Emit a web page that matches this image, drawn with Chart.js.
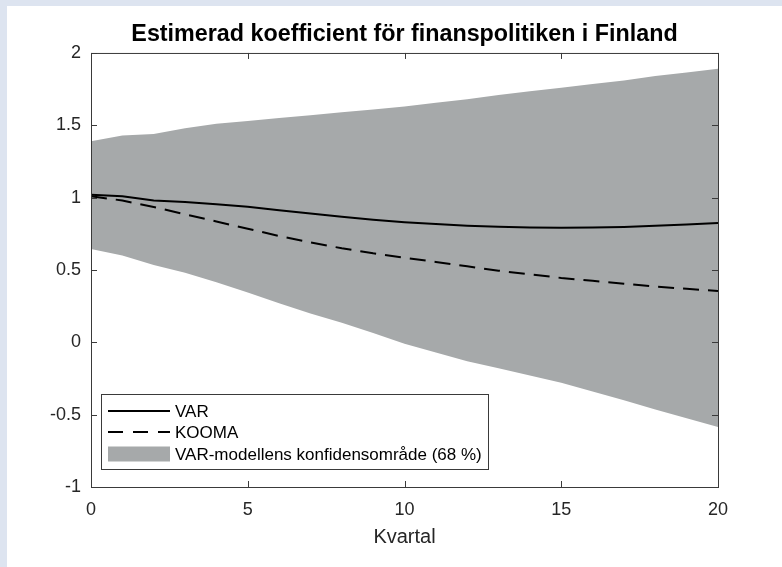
<!DOCTYPE html>
<html>
<head>
<meta charset="utf-8">
<script src="https://cdn.jsdelivr.net/npm/chart.js@4.4.1/dist/chart.umd.min.js"></script>
<style>
  html, body { margin: 0; padding: 0; background: #dde4f0; }
  #panel { position: absolute; left: 7px; top: 6px; width: 775px; height: 561px; background: #ffffff; }
  #wrap { position: absolute; left: 0; top: 0; width: 782px; height: 567px; }
</style>
</head>
<body>
<div id="panel"></div>
<div id="wrap"><canvas id="c" width="782" height="567"></canvas></div>
<script>
// Quarters after the shock and the estimated coefficients
const quarters      = [0, 1, 2, 3, 4, 5, 6, 7, 8, 9, 10, 11, 12, 13, 14, 15, 16, 17, 18, 19, 20];
const varEstimate   = [1.02, 1.01, 0.98, 0.97, 0.955, 0.937, 0.913, 0.89, 0.868, 0.847, 0.83, 0.817, 0.806, 0.799, 0.794, 0.792, 0.793, 0.797, 0.805, 0.815, 0.825];
const koomaEstimate = [1.01, 0.98, 0.935, 0.885, 0.835, 0.785, 0.735, 0.69, 0.65, 0.615, 0.585, 0.555, 0.525, 0.495, 0.47, 0.445, 0.425, 0.405, 0.385, 0.37, 0.355];
const bandUpper     = [1.39, 1.43, 1.44, 1.48, 1.51, 1.53, 1.55, 1.57, 1.59, 1.61, 1.63, 1.655, 1.68, 1.71, 1.735, 1.76, 1.785, 1.81, 1.84, 1.865, 1.89];
const bandLower     = [0.645, 0.60, 0.535, 0.48, 0.415, 0.345, 0.27, 0.20, 0.135, 0.065, -0.01, -0.07, -0.13, -0.18, -0.23, -0.28, -0.34, -0.40, -0.465, -0.525, -0.585];

// Axis ticks and texts
const xTicks      = [0, 5, 10, 15, 20];
const xTickLabels = ['0', '5', '10', '15', '20'];
const yTicks      = [-1, -0.5, 0, 0.5, 1, 1.5, 2];
const yTickLabels = ['-1', '-0.5', '0', '0.5', '1', '1.5', '2'];
const titleText   = 'Estimerad koefficient för finanspolitiken i Finland';
const xTitleText  = 'Kvartal';
const legendLabels = ['VAR', 'KOOMA', 'VAR-modellens konfidensområde (68 %)'];

const FONT = '"Liberation Sans", Arial, Helvetica, sans-serif';
const AXIS_COLOR = '#3a3a3a';
const TEXT_COLOR = '#262626';
const BAND_COLOR = '#a6a9aa';
const DASH = [16, 9];

const toPoints = (ys) => quarters.map((q, i) => ({ x: q, y: ys[i] }));

// Box around the axes with inward tick marks on all four sides
const framePlugin = {
  id: 'frame',
  afterDatasetsDraw(chart) {
    const { ctx, chartArea: a, scales } = chart;
    const L = 6;
    ctx.save();
    ctx.strokeStyle = AXIS_COLOR;
    ctx.lineWidth = 1;
    ctx.beginPath();
    xTicks.forEach(v => {
      const px = Math.round(scales.x.getPixelForValue(v)) + 0.5;
      ctx.moveTo(px, a.bottom); ctx.lineTo(px, a.bottom - L);
      ctx.moveTo(px, a.top); ctx.lineTo(px, a.top + L);
    });
    yTicks.forEach(v => {
      const py = Math.round(scales.y.getPixelForValue(v)) + 0.5;
      ctx.moveTo(a.left, py); ctx.lineTo(a.left + L, py);
      ctx.moveTo(a.right, py); ctx.lineTo(a.right - L, py);
    });
    ctx.stroke();
    ctx.strokeRect(a.left + 0.5, a.top + 0.5, a.right - a.left, a.bottom - a.top);
    ctx.restore();
  }
};

// Legend box in the lower left corner of the axes
const legendBoxPlugin = {
  id: 'legendBox',
  afterDraw(chart) {
    const { ctx, chartArea: a } = chart;
    const x0 = a.left + 10, y0 = a.bottom - 93, w = 387, h = 75;
    const sx0 = x0 + 7, sx1 = x0 + 69, tx = x0 + 74;
    const rows = [y0 + 17, y0 + 38, y0 + 60];
    ctx.save();
    ctx.fillStyle = '#ffffff';
    ctx.fillRect(x0, y0, w, h);
    ctx.strokeStyle = AXIS_COLOR;
    ctx.lineWidth = 1;
    ctx.strokeRect(x0 + 0.5, y0 + 0.5, w, h);

    ctx.strokeStyle = '#000000';
    ctx.lineWidth = 2;
    ctx.beginPath(); ctx.moveTo(sx0, rows[0]); ctx.lineTo(sx1, rows[0]); ctx.stroke();
    ctx.setLineDash([15, 10]);
    ctx.beginPath(); ctx.moveTo(sx0, rows[1]); ctx.lineTo(sx1, rows[1]); ctx.stroke();
    ctx.setLineDash([]);
    ctx.fillStyle = BAND_COLOR;
    ctx.fillRect(sx0, rows[2] - 7.5, sx1 - sx0, 15);

    ctx.fillStyle = '#000000';
    ctx.font = '17px ' + FONT;
    ctx.textBaseline = 'middle';
    ctx.textAlign = 'left';
    legendLabels.forEach((t, i) => ctx.fillText(t, tx, rows[i] + 1));
    ctx.restore();
  }
};

new Chart(document.getElementById('c'), {
  type: 'line',
  data: {
    datasets: [
      { label: legendLabels[0], data: toPoints(varEstimate), borderColor: '#000000', borderWidth: 2,
        pointRadius: 0, fill: false, tension: 0 },
      { label: legendLabels[1], data: toPoints(koomaEstimate), borderColor: '#000000', borderWidth: 2,
        borderDash: DASH, pointRadius: 0, fill: false, tension: 0 },
      { label: 'upper', data: toPoints(bandUpper), borderColor: 'rgba(0,0,0,0)', borderWidth: 1,
        backgroundColor: BAND_COLOR, pointRadius: 0, fill: '+1', tension: 0 },
      { label: 'lower', data: toPoints(bandLower), borderColor: 'rgba(0,0,0,0)', borderWidth: 1,
        backgroundColor: BAND_COLOR, pointRadius: 0, fill: false, tension: 0 }
    ]
  },
  options: {
    responsive: false,
    animation: false,
    devicePixelRatio: 1,
    events: [],
    layout: { padding: { top: 6, right: 64, bottom: 18, left: 0 } },
    plugins: {
      legend: { display: false },
      tooltip: { enabled: false },
      filler: { drawTime: 'beforeDatasetsDraw', propagate: false },
      title: {
        display: true,
        fullSize: false,
        text: titleText,
        color: '#000000',
        font: { family: FONT, size: 23.3, weight: 'bold', lineHeight: 1.2 },
        padding: { top: 15, bottom: 4 }
      }
    },
    scales: {
      x: {
        type: 'linear', min: 0, max: 20,
        afterBuildTicks: (s) => { s.ticks = xTicks.map(v => ({ value: v })); },
        afterFit: (s) => { s.height = 62; },
        ticks: {
          autoSkip: false, maxRotation: 0, padding: 12, color: TEXT_COLOR,
          font: { family: FONT, size: 18, lineHeight: 1.2 },
          callback: (v) => xTickLabels[xTicks.indexOf(v)]
        },
        grid: { display: false, drawTicks: false },
        border: { display: false },
        title: { display: true, text: xTitleText, color: TEXT_COLOR,
                 font: { family: FONT, size: 20, lineHeight: 1.2 }, padding: 0 }
      },
      y: {
        type: 'linear', min: -1, max: 2,
        afterBuildTicks: (s) => { s.ticks = yTicks.map(v => ({ value: v })); },
        afterFit: (s) => { s.width = 91; },
        ticks: {
          autoSkip: false, padding: 10, color: TEXT_COLOR,
          font: { family: FONT, size: 18, lineHeight: 1.2 },
          callback: (v) => yTickLabels[yTicks.indexOf(v)]
        },
        grid: { display: false, drawTicks: false },
        border: { display: false }
      }
    }
  },
  plugins: [framePlugin, legendBoxPlugin]
});
</script>
</body>
</html>
